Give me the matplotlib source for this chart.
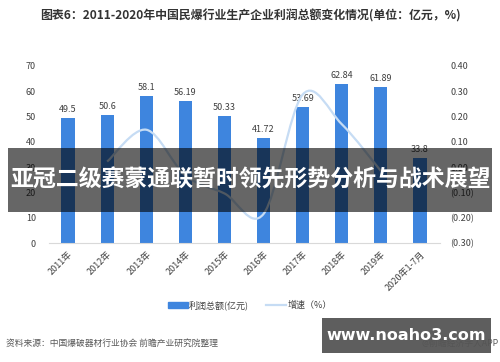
import matplotlib
matplotlib.use("Agg")
import matplotlib.pyplot as plt
from matplotlib.path import Path
from matplotlib.patches import PathPatch, Rectangle
from matplotlib.lines import Line2D
from matplotlib.patches import Patch

plt.rcParams['font.family'] = ['Noto Sans CJK SC', 'DejaVu Sans']

## data
years = ['2011年', '2012年', '2013年', '2014年', '2015年', '2016年',
         '2017年', '2018年', '2019年', '2020年1-7月']
profit = [49.5, 50.6, 58.1, 56.19, 50.33, 41.72, 53.69, 62.84, 61.89, 33.8]
growth = [0.022, 0.148, -0.033, -0.104, -0.185, 0.287, 0.170, -0.015]   # 2012-2019
growth_idx = [1, 2, 3, 4, 5, 6, 7, 8]

bar_color = '#3E85DE'
line_color = '#C6DCF4'
txt = '#404040'

fig = plt.figure(figsize=(5, 3.62), dpi=100)
ax = fig.add_axes([0.097, 0.3287, 0.782, 0.489])
x = list(range(len(years)))
ax.bar(x, profit, width=0.34, color=bar_color, zorder=2)
ax.set_xlim(-0.5, len(years) - 0.5)
ax.set_ylim(0, 70)
ax.set_yticks(range(0, 71, 10))
for i, v in enumerate(profit):
  ax.text(i, v + 1.5, f'{v:g}', ha='center', va='bottom', fontsize=6.5, color=txt)
ax.set_xticks(x)
ax.set_xticklabels(years, rotation=45, ha='right', rotation_mode='anchor', fontsize=6.2, color=txt)
ax.tick_params(axis='both', length=0, labelsize=6.5, colors=txt)
ax.tick_params(axis='y', pad=9)
ax.tick_params(axis='x', pad=5)
for s in ['top', 'right', 'left']:
  ax.spines[s].set_visible(False)
ax.spines['bottom'].set_color('#D9D9D9')

## right axis with smooth growth line
ax2 = ax.twinx()
ax2.set_ylim(-0.3, 0.4)
ax2.set_yticks([0.4, 0.3, 0.2, 0.1, 0.0, -0.1, -0.2, -0.3])
ax2.set_yticklabels(['0.40', '0.30', '0.20', '0.10', '0.00', '(0.10)', '(0.20)', '(0.30)'])
ax2.tick_params(axis='y', length=0, labelsize=6.5, colors=txt, pad=8)
for s in ['top', 'right', 'left', 'bottom']:
  ax2.spines[s].set_visible(False)

##smoothing as bezier path (catmull-rom style control points)
pts = list(zip(growth_idx, growth))
verts = [pts[0]]
codes = [Path.MOVETO]
n = len(pts)
for i in range(n - 1):
  p0 = pts[i - 1] if i > 0 else pts[i]
  p1 = pts[i]
  p2 = pts[i + 1]
  p3 = pts[i + 2] if i + 2 < n else pts[i + 1]
  c1 = (p1[0] + (p2[0] - p0[0]) / 6, p1[1] + (p2[1] - p0[1]) / 6)
  c2 = (p2[0] - (p3[0] - p1[0]) / 6, p2[1] - (p3[1] - p1[1]) / 6)
  verts += [c1, c2, p2]
  codes += [Path.CURVE4] * 3
ax2.add_patch(PathPatch(Path(verts, codes), facecolor='none', edgecolor=line_color, lw=1.6, zorder=3))

## title, legend, source
fig.text(0.5, 0.955, '图表6：2011-2020年中国民爆行业生产企业利润总额变化情况(单位：亿元，%)',
         ha='center', va='center', fontsize=8.6, fontweight='bold', color='#333333')
handles = [Patch(color=bar_color), Line2D([0], [0], color=line_color, lw=1.6)]
fig.legend(handles, ['利润总额(亿元)', '增速（%）'], loc='center', bbox_to_anchor=(0.5, 0.157),
           ncol=2, frameon=False, fontsize=6.5, handlelength=2.2, handleheight=0.6,
           columnspacing=1.9, handletextpad=0.1, labelcolor=txt)
fig.text(0.012, 0.052, '资料来源：中国爆破器材行业协会 前瞻产业研究院整理', ha='left', va='center',
         fontsize=6.3, color='#595959')
fig.text(0.998, 0.052, '@前瞻经济学人APP', ha='right', va='center', fontsize=6.3, color='#595959')

## overlay banner and watermark box
fig.patches.append(Rectangle((0.016, 0.414), 0.968, 0.177, transform=fig.transFigure,
                             facecolor='black', alpha=0.6, zorder=10))
fig.text(0.5, 0.503, '亚冠二级赛蒙通联暂时领先形势分析与战术展望', ha='center', va='center',
         fontsize=16.5, fontweight='bold', color='white', zorder=11)
fig.patches.append(Rectangle((0.644, 0.025), 0.338, 0.097, transform=fig.transFigure,
                             facecolor='#555555', alpha=0.95, zorder=10))
fig.text(0.813, 0.073, 'www.noaho3.com', ha='center', va='center', fontsize=11.5,
         fontweight='bold', color='white', family=['DejaVu Sans'], zorder=11)

fig.savefig('out.png', dpi=100)
